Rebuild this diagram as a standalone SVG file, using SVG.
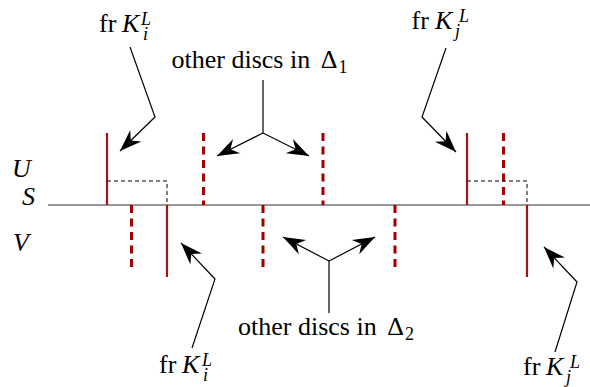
<svg xmlns="http://www.w3.org/2000/svg" width="590" height="387" viewBox="0 0 590 387">
<style>
text{font-family:"Liberation Serif","Times New Roman",serif;fill:#000}
.t{font-size:26px}
.it{font-style:italic}
.s{font-size:18px}
.solid{stroke:#a01515;stroke-width:2.2;fill:none}
.dash{stroke:#a00000;stroke-width:3;fill:none;stroke-dasharray:8 5.5}
.box{stroke:#000;stroke-width:1;fill:none;stroke-dasharray:4 3}
.arr{stroke:#000;stroke-width:1.2;fill:none;marker-end:url(#ah)}
.ln{stroke:#000;stroke-width:1.2;fill:none}
</style>
<defs>
<marker id="ah" markerUnits="userSpaceOnUse" orient="auto" markerWidth="24" markerHeight="18" refX="22" refY="8" viewBox="0 0 24 18" overflow="visible">
<path d="M22,8 L0,0 L7,8 L0,16 Z" fill="#000"/>
</marker>
</defs>
<g id="axis">
<line x1="48" y1="205" x2="590" y2="205" stroke="#333" stroke-width="1.2"/>
<text class="t it" x="12" y="177">U</text>
<text class="t it" x="22" y="205">S</text>
<text class="t it" x="13" y="251">V</text>
</g>
<g id="discs">
<path class="solid" d="M107,133 V205"/>
<path class="box" d="M107,181 H167 V205"/>
<path class="solid" d="M167,205 V277"/>
<path class="dash" d="M131.5,205 V272"/>
<path class="dash" d="M203.5,133 V205"/>
<path class="dash" d="M323,133 V205"/>
<path class="dash" d="M263,205 V272"/>
<path class="dash" d="M395,205 V272"/>
<path class="solid" d="M467,133 V205"/>
<path class="dash" d="M503.5,133 V205"/>
<path class="box" d="M467,181 H527 V205"/>
<path class="solid" d="M527,205 V277"/>
</g>
<g id="connectors">
<polyline class="arr" points="130,47 155,117 120,151"/>
<polyline class="arr" points="446,48 422,117 456,152"/>
<line class="ln" x1="263" y1="80" x2="263" y2="133"/>
<polyline class="arr" points="263,133 217,156"/>
<polyline class="arr" points="263,133 309,156"/>
<polyline class="arr" points="192,348 215,279 181,243"/>
<line class="ln" x1="329" y1="313" x2="329" y2="261"/>
<polyline class="arr" points="329,261 283,237"/>
<polyline class="arr" points="329,261 375,237"/>
<polyline class="arr" points="555,352 577,282 544,247"/>
</g>
<g id="label-fr-Ki-top">
<text class="t" x="99" y="32">fr</text>
<text class="t it" x="122" y="32">K</text>
<text class="s it" x="141" y="25">L</text>
<text class="s it" x="143" y="40">i</text>
</g>
<g id="label-delta1">
<text class="t" x="171.5" y="68">other discs in <tspan dx="4">Δ</tspan><tspan class="s" dy="5" dx="1">1</tspan></text>
</g>
<g id="label-fr-Kj-top">
<text class="t" x="411.5" y="29">fr</text>
<text class="t it" x="435" y="29">K</text>
<text class="s it" x="459" y="22">L</text>
<text class="s it" x="455" y="37">j</text>
</g>
<g id="label-fr-Ki-bottom">
<text class="t" x="159" y="373">fr</text>
<text class="t it" x="182" y="373">K</text>
<text class="s it" x="202" y="366">L</text>
<text class="s it" x="203" y="381">i</text>
</g>
<g id="label-delta2">
<text class="t" x="238" y="335">other discs in <tspan dx="4">Δ</tspan><tspan class="s" dy="5" dx="1">2</tspan></text>
</g>
<g id="label-fr-Kj-bottom">
<text class="t" x="523" y="375">fr</text>
<text class="t it" x="546" y="375">K</text>
<text class="s it" x="570" y="368">L</text>
<text class="s it" x="566" y="383">j</text>
</g>
</svg>
